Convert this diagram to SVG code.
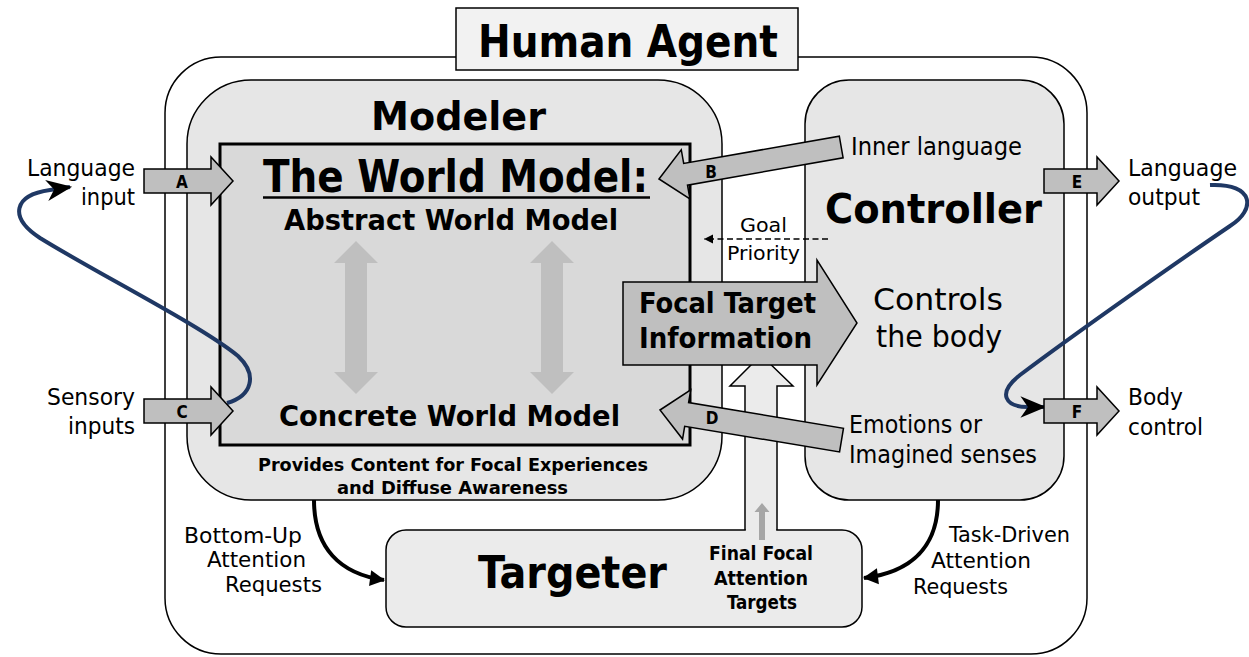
<svg xmlns="http://www.w3.org/2000/svg" width="1249" height="657" viewBox="0 0 1249 657">
<style>
.t{font-family:"DejaVu Sans Condensed","DejaVu Sans",sans-serif;fill:#000}
.b{font-weight:bold}
.ln{stroke:#000;stroke-width:1.5}
.blk{fill:#bfbfbf;stroke:#000;stroke-width:1.5;stroke-linejoin:miter}
.gr{fill:#bfbfbf;stroke:none}
.blue{fill:none;stroke:#1f3864;stroke-width:4}
.blkc{fill:none;stroke:#000;stroke-width:4}
</style>
<defs>
<marker id="stealth" markerUnits="userSpaceOnUse" markerWidth="30" markerHeight="30" viewBox="-24 -12 28 24" refX="0" refY="0" orient="auto">
<path d="M2,0 L-22,-10 L-15,0 L-22,10 Z" fill="#000"/>
</marker>
<marker id="tri" markerUnits="userSpaceOnUse" markerWidth="20" markerHeight="20" viewBox="-16 -10 18 20" refX="0" refY="0" orient="auto">
<path d="M1,0 L-14,-8 L-14,8 Z" fill="#000"/>
</marker>
<marker id="small" markerUnits="userSpaceOnUse" markerWidth="12" markerHeight="12" viewBox="-10 -6 12 12" refX="0" refY="0" orient="auto">
<path d="M0,0 L-9,-4.5 L-9,4.5 Z" fill="#000"/>
</marker>
</defs>
<rect width="1249" height="657" fill="#fff"/>

<g id="human-agent">
<rect x="165" y="57" width="922" height="597" rx="56" fill="#fff" class="ln"/>
<rect x="456" y="8" width="342" height="62" fill="#f2f2f2" class="ln"/>
<text class="t b" x="478" y="57" font-size="44" textLength="300" lengthAdjust="spacingAndGlyphs">Human Agent</text>
</g>

<g id="modeler">
<rect x="187" y="80" width="535" height="420" rx="64" fill="#e6e6e6" class="ln"/>
<text class="t b" x="371" y="130" font-size="39" textLength="175" lengthAdjust="spacingAndGlyphs">Modeler</text>
<text class="t b" x="258" y="471" font-size="18" textLength="390" lengthAdjust="spacingAndGlyphs">Provides Content for Focal Experiences</text>
<text class="t b" x="337" y="494" font-size="18" textLength="231" lengthAdjust="spacingAndGlyphs">and Diffuse Awareness</text>
</g>

<g id="controller">
<rect x="805" y="80" width="259" height="420" rx="44" fill="#e6e6e6" class="ln"/>
<text class="t b" x="825" y="223" font-size="41" textLength="217" lengthAdjust="spacingAndGlyphs">Controller</text>
<text class="t" x="873" y="310" font-size="31" textLength="130" lengthAdjust="spacingAndGlyphs">Controls</text>
<text class="t" x="876" y="347" font-size="31" textLength="126" lengthAdjust="spacingAndGlyphs">the body</text>
<text class="t" x="851" y="155" font-size="24" textLength="171" lengthAdjust="spacingAndGlyphs">Inner language</text>
<text class="t" x="849" y="433" font-size="24" textLength="133" lengthAdjust="spacingAndGlyphs">Emotions or</text>
<text class="t" x="849" y="463" font-size="24" textLength="188" lengthAdjust="spacingAndGlyphs">Imagined senses</text>
</g>

<g id="targeter">
<rect x="386" y="530" width="476" height="97" rx="20" fill="#ebebeb" class="ln"/>
<polygon points="745.8,386 730,386 761,355 793,386 776.2,386 776.2,531.5 745.8,531.5" fill="#ebebeb"/>
<polyline points="745,530 745,386 730,386 761,355 793,386 777,386 777,530" fill="none" class="ln"/>
<polygon points="762,503 769.5,512 765,512 765,540 759,540 759,512 754.5,512" fill="#a6a6a6"/>
<text class="t b" x="478" y="588" font-size="44" textLength="189" lengthAdjust="spacingAndGlyphs">Targeter</text>
<text class="t b" x="709" y="560" font-size="19" textLength="104" lengthAdjust="spacingAndGlyphs">Final Focal</text>
<text class="t b" x="714" y="585" font-size="19" textLength="94" lengthAdjust="spacingAndGlyphs">Attention</text>
<text class="t b" x="727" y="609" font-size="19" textLength="70" lengthAdjust="spacingAndGlyphs">Targets</text>
</g>

<g id="world-model">
<rect x="220" y="144" width="470" height="301" fill="#d9d9d9" stroke="#000" stroke-width="3"/>
<text class="t b" x="263" y="192" font-size="45" textLength="385" lengthAdjust="spacingAndGlyphs">The World Model:</text>
<line x1="263" y1="197.5" x2="650" y2="197.5" stroke="#000" stroke-width="2.5"/>
<text class="t b" x="284" y="230" font-size="28" textLength="334" lengthAdjust="spacingAndGlyphs">Abstract World Model</text>
<text class="t b" x="279" y="426" font-size="28" textLength="341" lengthAdjust="spacingAndGlyphs">Concrete World Model</text>
<polygon class="gr" points="356,241 378,263 367,263 367,372 378,372 356,394 334,372 345,372 345,263 334,263"/>
<polygon class="gr" points="552,241 574,263 563,263 563,372 574,372 552,394 530,372 541,372 541,263 530,263"/>
</g>

<g id="goal-priority">
<line x1="828" y1="239" x2="704" y2="239" stroke="#000" stroke-width="1.5" stroke-dasharray="6,3.5" marker-end="url(#small)"/>
<text class="t" x="740" y="232" font-size="20" textLength="47" lengthAdjust="spacingAndGlyphs">Goal</text>
<text class="t" x="727" y="260" font-size="20" textLength="73" lengthAdjust="spacingAndGlyphs">Priority</text>
</g>

<g id="connectors">
<path class="blue" d="M227,403 C252,396 258,375 238,356 C200,325 100,275 40,238 C8,217 14,195 50,190 L70,187" marker-end="url(#stealth)"/>
<path class="blue" d="M1210,185 C1255,183 1256,210 1230,226 C1180,260 1080,330 1020,375 C996,394 1006,407 1028,407 L1044,407" marker-end="url(#stealth)"/>
<path class="blkc" d="M314,500 C314,548 340,574 384,580" marker-end="url(#tri)"/>
<path class="blkc" d="M938,500 C938,546 912,572 864,578" marker-end="url(#tri)"/>
</g>

<g id="block-arrows">
<polygon class="blk" points="144,169 211,169 211,157 233,181 211,205 211,193 144,193"/>
<text class="t b" x="182" y="188" font-size="17" text-anchor="middle">A</text>
<polygon class="blk" points="144,399 211,399 211,387 233,411 211,435 211,423 144,423"/>
<text class="t b" x="182" y="418" font-size="17" text-anchor="middle">C</text>
<polygon class="blk" points="1044,169 1097,169 1097,157 1119,181 1097,205 1097,193 1044,193"/>
<text class="t b" x="1077" y="188" font-size="17" text-anchor="middle">E</text>
<polygon class="blk" points="1044,399 1097,399 1097,387 1119,411 1097,435 1097,423 1044,423"/>
<text class="t b" x="1077" y="418" font-size="17" text-anchor="middle">F</text>
<polygon class="blk" transform="translate(659,179) rotate(-9.97)" points="0,0 27,-25 27,-11 185,-11 185,11 27,11 27,25"/>
<text class="t b" x="711" y="178" font-size="17" text-anchor="middle">B</text>
<polygon class="blk" transform="translate(660,410) rotate(9.41)" points="0,0 27,-25 27,-12 184,-12 184,12 27,12 27,25"/>
<text class="t b" x="712" y="424" font-size="17" text-anchor="middle">D</text>
<polygon class="blk" points="623,282 817,282 817,260 857,323 817,385 817,365 623,365"/>
<text class="t b" x="639" y="313" font-size="28" textLength="177" lengthAdjust="spacingAndGlyphs">Focal Target</text>
<text class="t b" x="639" y="348" font-size="28" textLength="173" lengthAdjust="spacingAndGlyphs">Information</text>
</g>

<g id="labels">
<text class="t" x="27" y="176" font-size="23" textLength="108" lengthAdjust="spacingAndGlyphs">Language</text>
<text class="t" x="81" y="205" font-size="23" textLength="54" lengthAdjust="spacingAndGlyphs">input</text>
<text class="t" x="47" y="405" font-size="23" textLength="88" lengthAdjust="spacingAndGlyphs">Sensory</text>
<text class="t" x="68" y="434" font-size="23" textLength="67" lengthAdjust="spacingAndGlyphs">inputs</text>
<text class="t" x="1128" y="176" font-size="23" textLength="109" lengthAdjust="spacingAndGlyphs">Language</text>
<text class="t" x="1128" y="205" font-size="23" textLength="72" lengthAdjust="spacingAndGlyphs">output</text>
<text class="t" x="1128" y="405" font-size="23" textLength="55" lengthAdjust="spacingAndGlyphs">Body</text>
<text class="t" x="1128" y="435" font-size="23" textLength="75" lengthAdjust="spacingAndGlyphs">control</text>
<text class="t" x="184" y="543" font-size="21" textLength="118" lengthAdjust="spacingAndGlyphs">Bottom-Up</text>
<text class="t" x="207" y="567" font-size="21" textLength="99" lengthAdjust="spacingAndGlyphs">Attention</text>
<text class="t" x="225" y="592" font-size="21" textLength="97" lengthAdjust="spacingAndGlyphs">Requests</text>
<text class="t" x="949" y="542" font-size="21" textLength="121" lengthAdjust="spacingAndGlyphs">Task-Driven</text>
<text class="t" x="931" y="568" font-size="21" textLength="100" lengthAdjust="spacingAndGlyphs">Attention</text>
<text class="t" x="913" y="594" font-size="21" textLength="95" lengthAdjust="spacingAndGlyphs">Requests</text>
</g>
</svg>
